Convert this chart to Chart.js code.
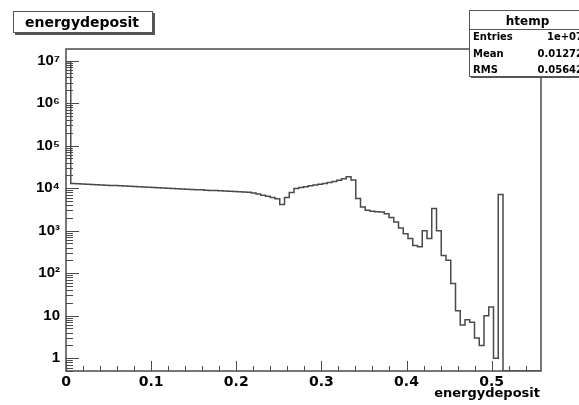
<!DOCTYPE html>
<html><head><meta charset="utf-8">
<script src="https://cdn.jsdelivr.net/npm/chart.js@4.4.0/dist/chart.umd.min.js"></script>
<style>html,body{margin:0;padding:0;background:#fff;}#wrap{width:579px;height:405px;}</style>
</head><body><div id="wrap"><canvas id="c" width="579" height="405"></canvas></div>
<script>
// ---- data ----
const xMin = 0;
const xMax = 0.558;
const yMin = 0.5;
const yMax = 1.87e7;
const binCount = 100;
const binContents = [
  9340000, 12800, 12650, 12500, 12350, 12200, 12050, 11900, 11750, 11600,
  11450, 11300, 11150, 11000, 10850, 10700, 10600, 10450, 10300, 10200,
  10050, 9950, 9800, 9700, 9550, 9450, 9300, 9200, 9100, 8950,
  8850, 8750, 8650, 8550, 8450, 8350, 8250, 8150, 8000, 7700,
  7300, 6800, 6400, 6000, 5600, 4100, 6000, 7900, 9800, 10300,
  10800, 11300, 11800, 12300, 12900, 13600, 14400, 15400, 16600, 18500,
  15500, 5700, 3600, 3000, 2850, 2800, 2750, 2500, 2050, 1600,
  1150, 850, 650, 450, 420, 1000, 650, 3300, 1000, 260,
  200, 57, 13, 6, 8, 7, 3, 2, 10, 16,
  1, 7100, 0, 0, 0, 0, 0, 0, 0, 0
];
const xTickValues = [0, 0.1, 0.2, 0.3, 0.4, 0.5];
const xTickLabels = ['0', '0.1', '0.2', '0.3', '0.4', '0.5'];
const yTickValues = [1, 10, 100, 1000, 10000, 100000, 1000000, 10000000];
const yTickLabels = ['1', '10', '10\u00B2', '10\u00B3', '10\u2074', '10\u2075', '10\u2076', '10\u2077'];
const statsName = 'htemp';
const statsLabels = ['Entries', 'Mean', 'RMS'];
const statsValues = ['1e+07', '0.01272', '0.05642'];
const titleText = 'energydeposit';
const xAxisTitle = 'energydeposit';

// ---- build step points from bins (empty bins sit on the axis floor, as ROOT draws them) ----
const binWidth = (xMax - xMin) / binCount;
const points = binContents.map((v, i) => ({ x: xMin + i * binWidth, y: v > 0 ? v : yMin }));
points.push({ x: xMax, y: points[points.length - 1].y });

const FONT_L = '"Liberation Sans", Arial, Helvetica, sans-serif';
const FONT_D = '"DejaVu Sans", "Liberation Sans", sans-serif';
const LINE = '#4a4a4a';

const rootDecor = {
  id: 'rootDecor',
  afterDraw(chart) {
    const ctx = chart.ctx;
    const a = chart.chartArea;
    const xs = chart.scales.x, ys = chart.scales.y;
    ctx.save();
    // frame
    ctx.strokeStyle = LINE;
    ctx.lineWidth = 1.5;
    ctx.strokeRect(a.left, a.top, a.right - a.left, a.bottom - a.top);
    // y ticks (log: major at 10^n, minor at k*10^n)
    ctx.lineWidth = 1;
    ctx.beginPath();
    for (let d = -1; d <= 8; d++) {
      for (let k = 1; k <= 9; k++) {
        const v = k * Math.pow(10, d);
        if (v < ys.min || v > ys.max) continue;
        const py = Math.round(ys.getPixelForValue(v)) + 0.5;
        const len = k === 1 ? 13 : 7;
        ctx.moveTo(a.left, py);
        ctx.lineTo(a.left + len, py);
      }
    }
    // x ticks
    for (let i = 0; i <= 40; i++) {
      const v = i * 0.02;
      if (v > xs.max + 1e-9) break;
      const px = Math.round(xs.getPixelForValue(v)) + 0.5;
      const len = i % 5 === 0 ? 10 : 5;
      ctx.moveTo(px, a.bottom);
      ctx.lineTo(px, a.bottom - len);
    }
    ctx.stroke();

    // title box
    ctx.fillStyle = '#fff';
    ctx.fillRect(13, 11, 140, 22);
    ctx.fillStyle = '#555';
    ctx.fillRect(15, 33, 140, 2);
    ctx.fillRect(153, 13, 2, 22);
    ctx.strokeStyle = '#555';
    ctx.lineWidth = 1;
    ctx.strokeRect(13.5, 11.5, 139, 21);
    ctx.fillStyle = '#000';
    ctx.font = 'bold 14px ' + FONT_D;
    ctx.textAlign = 'center';
    ctx.textBaseline = 'alphabetic';
    ctx.fillText(titleText, 82, 27);

    // stats box
    const bl = 469, bt = 10, br = 586, bb = 76;
    ctx.fillStyle = '#fff';
    ctx.fillRect(bl, bt, br - bl, bb - bt);
    ctx.fillStyle = '#555';
    ctx.fillRect(bl + 2, bb, br - bl, 2);
    ctx.strokeStyle = '#555';
    ctx.strokeRect(bl + 0.5, bt + 0.5, br - bl, bb - bt);
    ctx.beginPath();
    ctx.moveTo(bl, 29.5); ctx.lineTo(br, 29.5);
    ctx.stroke();
    ctx.fillStyle = '#000';
    ctx.font = 'bold 12px ' + FONT_D;
    ctx.textAlign = 'center';
    ctx.fillText(statsName, 527.5, 25);
    ctx.font = 'bold 10px ' + FONT_D;
    const rowY = [40, 57, 73];
    statsLabels.forEach((lab, i) => {
      ctx.textAlign = 'left';
      ctx.fillText(lab, 473, rowY[i]);
      ctx.textAlign = 'right';
      ctx.fillText(statsValues[i], 583, rowY[i]);
    });

    // x axis title
    ctx.font = 'bold 13px ' + FONT_D;
    ctx.textAlign = 'right';
    ctx.fillText(xAxisTitle, 540, 397);
    ctx.restore();
  }
};

new Chart(document.getElementById('c'), {
  type: 'line',
  data: {
    datasets: [{
      data: points,
      stepped: 'before',
      borderColor: LINE,
      borderWidth: 1.5,
      pointRadius: 0,
      fill: false,
      tension: 0
    }]
  },
  options: {
    responsive: false,
    animation: false,
    devicePixelRatio: 1,
    layout: { padding: { left: 0, right: 38, top: 49, bottom: 0 } },
    plugins: { legend: { display: false }, tooltip: { enabled: false }, title: { display: false } },
    scales: {
      x: {
        type: 'linear', min: xMin, max: xMax,
        afterFit: s => { s.height = 34; },
        afterBuildTicks: s => { s.ticks = xTickValues.map(v => ({ value: v })); },
        grid: { display: false, drawTicks: false },
        border: { display: false },
        ticks: {
          autoSkip: false, maxRotation: 0, padding: 3, color: '#000',
          font: { family: FONT_D, size: 14, weight: 'bold' },
          callback: (v, i) => xTickLabels[i]
        }
      },
      y: {
        type: 'logarithmic', min: yMin, max: yMax,
        afterFit: s => { s.width = 66; },
        afterBuildTicks: s => { s.ticks = yTickValues.map(v => ({ value: v })); },
        grid: { display: false, drawTicks: false },
        border: { display: false },
        ticks: {
          autoSkip: false, padding: 6, color: '#000',
          font: { family: FONT_L, size: 15, weight: 'bold' },
          callback: (v, i) => yTickLabels[i]
        }
      }
    }
  },
  plugins: [rootDecor]
});
</script>
</body></html>
